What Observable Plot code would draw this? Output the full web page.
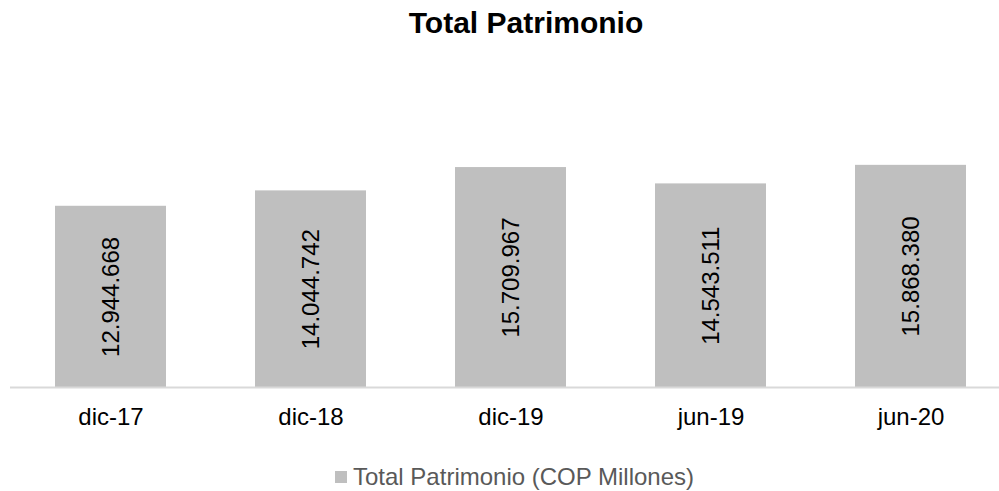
<!DOCTYPE html>
<html>
<head>
<meta charset="utf-8">
<script src="https://cdn.jsdelivr.net/npm/d3@7"></script>
<script src="https://cdn.jsdelivr.net/npm/@observablehq/plot@0.6"></script>
<style>
  html, body { margin: 0; padding: 0; background: #fff; }
  #wrap { position: relative; width: 999px; height: 491px; overflow: hidden; font-family: "Liberation Sans", Arial, sans-serif; }
  #title { position: absolute; top: 8px; left: 526px; transform: translateX(-50%); font-size: 30px; line-height: 30px; font-weight: bold; color: #000; white-space: nowrap; }
  #legend { position: absolute; top: 465px; left: 335px; height: 24px; font-size: 24px; line-height: 24px; color: #595959; white-space: nowrap; display: flex; align-items: center; }
  #legend .sw { display: inline-block; width: 12px; height: 12px; background: #bfbfbf; margin-right: 6px; }
  #chart { position: absolute; top: 0; left: 0; }
</style>
</head>
<body>
<div id="wrap">
  <div id="chart"></div>
  <div id="title">Total Patrimonio</div>
  <div id="legend"><span class="sw"></span><span>Total Patrimonio (COP Millones)</span></div>
</div>
<script>
const categories = ["dic-17", "dic-18", "dic-19", "jun-19", "jun-20"];
const values = [12944668, 14044742, 15709967, 14543511, 15868380];
const seriesName = "Total Patrimonio (COP Millones)";

const data = categories.map((c, i) => ({ category: c, value: values[i] }));
const locale = d3.formatLocale({ decimal: ",", thousands: ".", grouping: [3], currency: ["", ""] });
const fmt = locale.format(",d");

const chart = Plot.plot({
  width: 999,
  height: 491,
  marginLeft: 10,
  marginRight: 0,
  marginTop: 0,
  marginBottom: 104,
  style: { fontFamily: "Liberation Sans, Arial, sans-serif", fontSize: "24px", color: "#000", background: "transparent" },
  x: { domain: categories, range: [10, 1010], paddingInner: 0.445, paddingOuter: 0.2225, label: null },
  y: { domain: [0, 18000000], range: [387, 135], axis: null },
  marks: [
    Plot.barY(data, { x: "category", y: "value", fill: "#bfbfbf" }),
    Plot.ruleY([0], { stroke: "#d9d9d9", strokeWidth: 2 }),
    Plot.text(data, { x: "category", y: d => d.value / 2, text: d => fmt(d.value), rotate: -90, fontSize: 24, fill: "#000" }),
    Plot.axisX({ tickSize: 0, tickPadding: 20, fontSize: 24, label: null, fill: "#000" })
  ]
});
document.getElementById("chart").appendChild(chart);
</script>
</body>
</html>
